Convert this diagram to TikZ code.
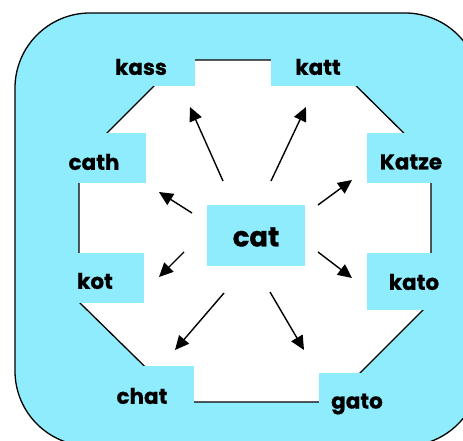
\documentclass[tikz,border=0pt]{standalone}
\usepackage{fontspec}
\setmainfont{Poppins}
\newfontfamily\wordfont{Poppins Bold}[FakeBold=0.8]
\usetikzlibrary{arrows.meta}
\definecolor{skycyan}{RGB}{142,236,252}
\tikzset{
  frame/.style={fill=skycyan, draw=black, line width=1.3pt, rounded corners=75pt},
  ring/.style={fill=white, draw=black, line width=1.3pt},
  patch/.style={fill=skycyan, draw=none},
  word/.style={font=\fontsize{21.5}{21.5}\selectfont\wordfont, inner sep=0pt},
  bigword/.style={font=\fontsize{27.5}{27.5}\selectfont\wordfont, inner sep=0pt},
  spoke/.style={line width=1.4pt, -{Triangle[length=14pt,width=13pt]}}
}
\begin{document}
\begin{tikzpicture}[x=1pt,y=-1pt]
  \useasboundingbox (0,0) rectangle (463,441);
  \begin{scope}
    \clip (0,0) rectangle (463,441);
    % outer rounded panel
    \draw[frame] (15,13) rectangle (480,446);
  \end{scope}
  % white octagon
  \draw[ring] (180,60) -- (330,60) -- (431,160) -- (431,302) -- (331,402)
              -- (181,402) -- (79,302) -- (79,161) -- cycle;
  % cyan patches behind the words
  \fill[patch] (88,46) rectangle (195,86);
  \fill[patch] (271,46) rectangle (365,86);
  \fill[patch] (40,133) rectangle (146,183);
  \fill[patch] (367,133) rectangle (455,183);
  \fill[patch] (40,253) rectangle (144,303);
  \fill[patch] (367,253) rectangle (455,310);
  \fill[patch] (100,366) rectangle (194,425);
  \fill[patch] (319,373) rectangle (425,430);
  \fill[patch] (207,205) rectangle (305,266);
  % words
  \node[bigword] (cat)   at (256,237) {cat};
  \node[word]    (kass)  at (141,67)  {kass};
  \node[word]    (katt)  at (318,67)  {katt};
  \node[word]    (cath)  at (94,162)  {cath};
  \node[word]    (katze) at (411,162) {Katze};
  \node[word]    (kot)   at (95,281)  {kot};
  \node[word]    (kato)  at (414,282) {kato};
  \node[word]    (chat)  at (142,396) {chat};
  \node[word]    (gato)  at (357,404) {gato};
  % spoke ends
  \coordinate (s1) at (223,181); \coordinate (e1) at (190,107);
  \coordinate (s2) at (271,181); \coordinate (e2) at (306,107);
  \coordinate (s3) at (192,213); \coordinate (e3) at (159,192);
  \coordinate (s4) at (318,205); \coordinate (e4) at (352,180);
  \coordinate (s5) at (184,252); \coordinate (e5) at (159,277);
  \coordinate (s6) at (318,252); \coordinate (e6) at (352,278);
  \coordinate (s7) at (224,293); \coordinate (e7) at (175,350);
  \coordinate (s8) at (270,292); \coordinate (e8) at (304,350);
  \foreach \i in {1,...,8} \draw[spoke] (s\i) -- (e\i);
\end{tikzpicture}
\end{document}
